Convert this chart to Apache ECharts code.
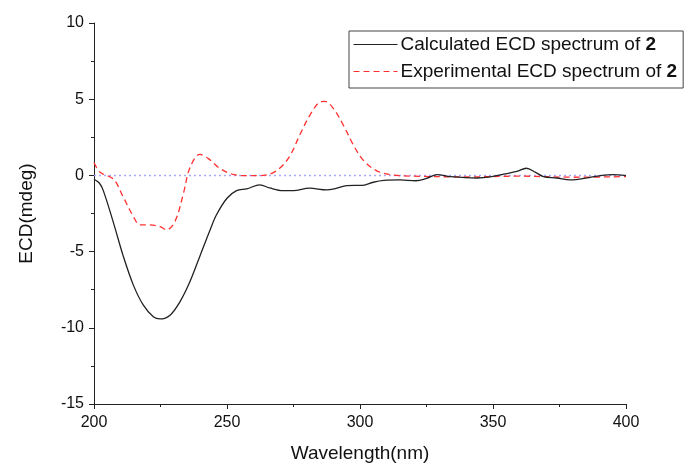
<!DOCTYPE html>
<html>
<head>
<meta charset="utf-8">
<script src="https://cdn.jsdelivr.net/npm/echarts@6/dist/echarts.min.js"></script>
<style>html,body{margin:0;padding:0;background:#fff}#c{width:684px;height:468px}</style>
</head>
<body>
<div id="c"></div>
<script>
const calcName = 'Calculated ECD spectrum of 2';
const expName = 'Experimental ECD spectrum of 2';
const xAxisTitle = 'Wavelength(nm)';
const yAxisTitle = 'ECD(mdeg)';

const calcWl = [200,202,203.5,207.3,211,214.8,218.5,222.3,224.8,228.6,232.3,236,239.8,243.6,246,250,253.6,257.4,262.4,266,271,275,281,287.5,291,295,301,305,309,315,321,325,329,334,344,349,354,359,362.5,366,369,374,379,386.5,391,395,400];
const calcVal = [-0.25,-0.5,-1.0,-3.1,-5.3,-7.2,-8.5,-9.28,-9.42,-9.17,-8.3,-7.0,-5.3,-3.6,-2.6,-1.5,-1.0,-0.88,-0.62,-0.82,-1.0,-1.0,-0.84,-0.95,-0.85,-0.67,-0.65,-0.45,-0.33,-0.3,-0.35,-0.2,0.05,-0.08,-0.17,-0.1,0.08,0.26,0.47,0.2,-0.08,-0.17,-0.3,-0.13,0.0,0.05,-0.02];

const expWl = [200,202.3,207.3,211,214.8,217.3,221,224.8,227.3,230.5,233.6,236.1,239.8,243,247.4,252.4,257.4,261.2,266,270,273.7,277.4,281.2,285,286.8,290,293.7,297.5,301.2,306.3,312.5,320,340,360,380,400];
const expVal = [0.84,0.2,-0.24,-1.42,-2.7,-3.25,-3.25,-3.36,-3.57,-3.0,-1.2,0.52,1.38,1.1,0.45,0.06,-0.02,-0.02,0.08,0.5,1.3,2.67,3.96,4.82,4.86,4.39,3.31,2.0,1.0,0.3,0.02,-0.05,-0.1,-0.05,-0.12,-0.08];

const zeroWl = [200,400];
const zeroVal = [0,0];

const xTicks = [200,250,300,350,400];
const yTicks = [-15,-10,-5,0,5,10];

const zip = (a,b) => a.map((v,i)=>[v,b[i]]);
const FONT = "'Liberation Sans', Arial, sans-serif";

const chart = echarts.init(document.getElementById('c'), null, {renderer:'canvas'});
chart.setOption({
  animation:false,
  backgroundColor:'#fff',
  grid:{left:94,right:58,top:23,bottom:58,containLabel:false},
  legend:{
    orient:'vertical',
    left:349, top:31,
    data:[calcName, expName],
    itemWidth:44, itemHeight:12, itemGap:6,
    padding:[3,6,6,4],
    borderColor:'#444', borderWidth:1, borderRadius:0,
    backgroundColor:'#fff',
    itemStyle:{opacity:0},
    lineStyle:{width:1},
    formatter: n => n.replace(/ 2$/, ' {b|2}'),
    textStyle:{fontFamily:FONT,fontSize:19,color:'#111',lineHeight:21,padding:[0,0,0,-2],
      rich:{b:{fontFamily:FONT,fontSize:19,fontWeight:'bold',color:'#111'}}}
  },
  xAxis:{
    type:'value', min:xTicks[0], max:xTicks[xTicks.length-1], interval:50,
    name:xAxisTitle, nameLocation:'middle', nameGap:40,
    nameTextStyle:{fontFamily:FONT,fontSize:19,color:'#111'},
    axisLine:{show:true,onZero:false,lineStyle:{color:'#222',width:1}},
    axisTick:{show:true,inside:false,length:5,lineStyle:{color:'#222'}},
    minorTick:{show:true,splitNumber:2,length:3,lineStyle:{color:'#222'}},
    axisLabel:{fontFamily:FONT,fontSize:16,color:'#111',margin:11},
    splitLine:{show:false}
  },
  yAxis:{
    type:'value', min:yTicks[0], max:yTicks[yTicks.length-1], interval:5,
    name:yAxisTitle, nameLocation:'middle', nameGap:58, nameRotate:90,
    nameTextStyle:{fontFamily:FONT,fontSize:19,color:'#111'},
    axisLine:{show:true,onZero:false,lineStyle:{color:'#222',width:1}},
    axisTick:{show:true,inside:false,length:5,lineStyle:{color:'#222'}},
    minorTick:{show:true,splitNumber:2,length:3,lineStyle:{color:'#222'}},
    axisLabel:{fontFamily:FONT,fontSize:16,color:'#111',margin:10},
    splitLine:{show:false}
  },
  series:[
    {name:'zero',type:'line',data:zip(zeroWl,zeroVal),symbol:'none',silent:true,
     color:'#a8a8ff',itemStyle:{color:'#a8a8ff'},
     lineStyle:{color:'#a8a8ff',width:1.5,type:[2,3]},z:1},
    {name:calcName,type:'line',data:zip(calcWl,calcVal),symbol:'none',smooth:0.35,
     color:'#222',itemStyle:{color:'#222'},lineStyle:{color:'#222',width:1.3},z:3},
    {name:expName,type:'line',data:zip(expWl,expVal),symbol:'none',smooth:0.35,
     color:'#ff3030',itemStyle:{color:'#ff3030'},lineStyle:{color:'#ff3030',width:1.3,type:[6,4]},z:2}
  ]
});
</script>
</body>
</html>
